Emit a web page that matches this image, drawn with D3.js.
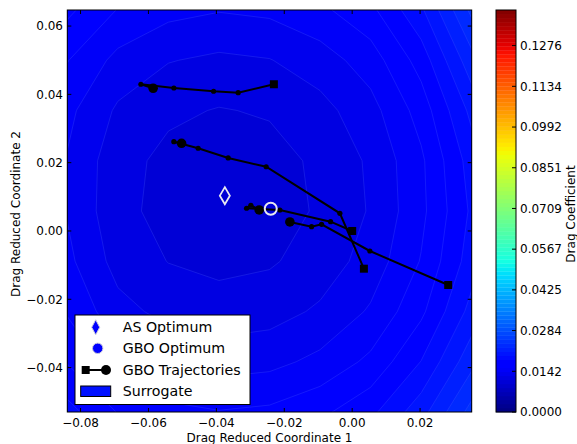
<!DOCTYPE html>
<html><head><meta charset="utf-8">
<script src="https://cdn.jsdelivr.net/npm/d3@7"></script>
<style>body{margin:0;background:#fff} text{font-family:"DejaVu Sans",sans-serif;fill:#000}</style>
</head><body><svg id="c" width="577" height="444"></svg>
<script>
// ---------------- data ----------------
const xDomain = [-0.0839, 0.0352];
const yDomain = [-0.053, 0.0647];
const xTicks = [-0.08, -0.06, -0.04, -0.02, 0.00, 0.02];
const yTicks = [-0.04, -0.02, 0.00, 0.02, 0.04, 0.06];
const cbMax = 0.1400;
const cbTicks = [0, 0.014177, 0.028354, 0.042531, 0.056708, 0.070885, 0.085062, 0.099239, 0.113416, 0.127593];
const nLevels = 100;
// surrogate drag coefficient on a 9x9 grid spanning the axes, rows from top (max y) to bottom
const surrogate = [
  [0.017115, 0.015337, 0.014425, 0.014078, 0.014296, 0.015080, 0.016439, 0.019349, 0.024162],
  [0.015461, 0.013583, 0.012671, 0.012324, 0.012542, 0.013326, 0.014685, 0.017395, 0.021908],
  [0.014358, 0.012380, 0.011468, 0.011121, 0.011339, 0.012123, 0.013482, 0.015992, 0.020005],
  [0.013905, 0.011727, 0.010815, 0.010468, 0.010686, 0.011470, 0.012829, 0.015139, 0.018852],
  [0.013903, 0.011625, 0.010713, 0.010366, 0.010584, 0.011368, 0.012727, 0.015037, 0.018450],
  [0.014353, 0.012075, 0.011163, 0.010816, 0.011034, 0.011818, 0.013177, 0.015487, 0.018900],
  [0.015256, 0.013078, 0.012166, 0.011819, 0.012037, 0.012821, 0.014180, 0.016490, 0.020103],
  [0.016706, 0.014628, 0.013716, 0.013369, 0.013587, 0.014371, 0.015730, 0.018240, 0.021953],
  [0.018708, 0.016730, 0.015818, 0.015471, 0.015689, 0.016473, 0.017832, 0.020442, 0.024355]
];
// GBO trajectories: start (square) ... end (circle)
const traj1 = [[-0.02306,0.04296],[-0.03358,0.04050],[-0.04082,0.04091],[-0.05251,0.04187],[-0.06223,0.04296],[-0.05862,0.04179]];
const traj2 = [[0.00345,-0.01104],[-0.00362,0.00518],[-0.02533,0.01880],[-0.03652,0.02138],[-0.04536,0.02422],[-0.05252,0.02615],[-0.05025,0.02568]];
const traj3 = [[0.0,0.0],[-0.00636,0.00272],[-0.02130,0.00615],[-0.03110,0.00665],[-0.02984,0.00753],[-0.02739,0.00615]];
const traj4 = [[0.02828,-0.01581],[0.00521,-0.00586],[-0.00901,0.00196],[-0.01196,0.00126],[-0.01835,0.00264]];
const trajectories = [traj1, traj2, traj3, traj4];
const asOptimum = [-0.0375, 0.01034];
const gboOptimum = [-0.02398, 0.00653];
const legendLabels = ["AS Optimum", "GBO Optimum", "GBO Trajectories", "Surrogate"];

// ---------------- helpers ----------------
function interp(seg, t){
  for (let i=1;i<seg.length;i++){
    if (t <= seg[i][0]){
      const a=seg[i-1], b=seg[i];
      return a[1] + (b[1]-a[1])*(t-a[0])/(b[0]-a[0]);
    }
  }
  return seg[seg.length-1][1];
}
const R=[[0,0],[0.35,0],[0.66,1],[0.89,1],[1,0.5]];
const G=[[0,0],[0.125,0],[0.375,1],[0.64,1],[0.91,0],[1,0]];
const B=[[0,0.5],[0.11,1],[0.34,1],[0.65,0],[1,0]];
function jet(t){
  t=Math.max(0,Math.min(1,t));
  return d3.rgb(255*interp(R,t),255*interp(G,t),255*interp(B,t)).formatHex();
}

// ---------------- layout ----------------
const svg = d3.select("#c");
const L=67.3, Rt=471.7, T=10, Bt=412;
const x = d3.scaleLinear(xDomain, [L, Rt]);
const y = d3.scaleLinear(yDomain, [Bt, T]);

svg.append("defs").append("clipPath").attr("id","clip")
  .append("rect").attr("x",L).attr("y",T).attr("width",Rt-L).attr("height",Bt-T);

// contour fill (d3.contours places sample i at grid coordinate i+0.5)
const n = surrogate.length, m = surrogate[0].length;
const levels = d3.range(nLevels+1).map(i => i*cbMax/nLevels);
const step = cbMax/nLevels;
const gxs = d3.scaleLinear([0.5, m-0.5], xDomain);
const gys = d3.scaleLinear([0.5, n-0.5], [yDomain[1], yDomain[0]]);
const proj = d3.geoTransform({point(px,py){ this.stream.point(x(gxs(px)), y(gys(py))); }});
const path = d3.geoPath(proj);
const cs = d3.contours().size([m, n]).thresholds(levels)(surrogate.flat());
const gC = svg.append("g").attr("clip-path","url(#clip)");
cs.forEach(c => {
  if (!c.coordinates.length) return;
  gC.append("path").attr("d", path(c))
    .attr("fill", jet((c.value + step/2)/cbMax))
    .attr("stroke", "rgba(90,110,255,0.32)").attr("stroke-width", 0.7);
});

// trajectories
const gT = svg.append("g").attr("clip-path","url(#clip)");
const line = d3.line().x(d=>x(d[0])).y(d=>y(d[1]));
trajectories.forEach(tr => {
  gT.append("path").attr("d", line(tr)).attr("fill","none").attr("stroke","#000").attr("stroke-width",2);
  tr.slice(1,-1).forEach(p => gT.append("circle").attr("cx",x(p[0])).attr("cy",y(p[1])).attr("r",2.6).attr("fill","#000"));
  const s = tr[0];
  gT.append("rect").attr("x",x(s[0])-4).attr("y",y(s[1])-4).attr("width",8).attr("height",8).attr("fill","#000");
  const e = tr[tr.length-1];
  gT.append("circle").attr("cx",x(e[0])).attr("cy",y(e[1])).attr("r",4.8).attr("fill","#000");
});

// optima
const diamond = (cx,cy,w,h) => `M${cx},${cy-h/2}L${cx+w/2},${cy}L${cx},${cy+h/2}L${cx-w/2},${cy}Z`;
gT.append("path").attr("d", diamond(x(asOptimum[0]), y(asOptimum[1]), 10, 17))
  .attr("fill","none").attr("stroke","#e8e8f0").attr("stroke-width",1.8);
gT.append("circle").attr("cx",x(gboOptimum[0])).attr("cy",y(gboOptimum[1])).attr("r",6)
  .attr("fill","none").attr("stroke","#e8e8f0").attr("stroke-width",2);

// frame and ticks
svg.append("rect").attr("x",L).attr("y",T).attr("width",Rt-L).attr("height",Bt-T)
  .attr("fill","none").attr("stroke","#000").attr("stroke-width",1);
const tl=4;
xTicks.forEach(v => {
  const px=x(v);
  svg.append("line").attr("x1",px).attr("x2",px).attr("y1",Bt).attr("y2",Bt-tl).attr("stroke","#000");
  svg.append("line").attr("x1",px).attr("x2",px).attr("y1",T).attr("y2",T+tl).attr("stroke","#000");
  svg.append("text").attr("x",px).attr("y",426.5).attr("text-anchor","middle").attr("font-size",12)
    .text(d3.format(".2f")(v).replace("-","\u2212"));
});
yTicks.forEach(v => {
  const py=y(v);
  svg.append("line").attr("x1",L).attr("x2",L+tl).attr("y1",py).attr("y2",py).attr("stroke","#000");
  svg.append("line").attr("x1",Rt).attr("x2",Rt-tl).attr("y1",py).attr("y2",py).attr("stroke","#000");
  svg.append("text").attr("x",63).attr("y",py).attr("dy","0.36em").attr("text-anchor","end").attr("font-size",12)
    .text(d3.format(".2f")(v).replace("-","\u2212"));
});
svg.append("text").attr("x",(L+Rt)/2).attr("y",441.5).attr("text-anchor","middle").attr("font-size",12)
  .text("Drag Reduced Coordinate 1");
svg.append("text").attr("transform","translate(15.5,214) rotate(-90)").attr("text-anchor","middle")
  .attr("dominant-baseline","central").attr("font-size",12).text("Drag Reduced Coordinate 2");

// legend
const lg = svg.append("g");
lg.append("rect").attr("x",75).attr("y",315).attr("width",175).attr("height",89.5)
  .attr("fill","#fff").attr("stroke","#000").attr("stroke-width",1);
const rowsY=[327.3,348.3,370,390.7];
lg.append("path").attr("d", diamond(95.7, rowsY[0], 8, 15)).attr("fill","#0000ff").attr("stroke","#ccd").attr("stroke-width",1);
lg.append("circle").attr("cx",97.7).attr("cy",rowsY[1]).attr("r",5.2).attr("fill","#0000ff").attr("stroke","#ccd").attr("stroke-width",1);
lg.append("line").attr("x1",85.7).attr("x2",106).attr("y1",rowsY[2]).attr("y2",rowsY[2]).attr("stroke","#000").attr("stroke-width",2);
lg.append("rect").attr("x",81.7).attr("y",rowsY[2]-4).attr("width",8).attr("height",8).attr("fill","#000");
lg.append("circle").attr("cx",106).attr("cy",rowsY[2]).attr("r",5).attr("fill","#000");
lg.append("rect").attr("x",80.7).attr("y",386).attr("width",30).attr("height",10.5).attr("fill","#0010ff").attr("stroke","#000").attr("stroke-width",1);
legendLabels.forEach((t,i) => lg.append("text").attr("x",122.7).attr("y",rowsY[i]).attr("dy","0.36em").attr("font-size",14.2).text(t));

// colorbar
const cbL=496, cbR=516;
const cb = d3.scaleLinear([0, cbMax], [Bt, T]);
for (let i=0;i<nLevels;i++){
  svg.append("rect").attr("x",cbL).attr("width",cbR-cbL)
    .attr("y",cb(levels[i+1])).attr("height",cb(levels[i])-cb(levels[i+1])+0.3)
    .attr("fill", jet((levels[i]+levels[i+1])/2/cbMax));
}
svg.append("rect").attr("x",cbL).attr("y",T).attr("width",cbR-cbL).attr("height",Bt-T)
  .attr("fill","none").attr("stroke","#000").attr("stroke-width",1);
cbTicks.forEach(v => {
  const py=cb(v);
  svg.append("line").attr("x1",cbR).attr("x2",cbR-4).attr("y1",py).attr("y2",py).attr("stroke","#000");
  svg.append("text").attr("x",520).attr("y",py).attr("dy","0.36em").attr("font-size",12).text(d3.format(".4f")(v));
});
svg.append("text").attr("transform","translate(570.5,214) rotate(-90)").attr("text-anchor","middle")
  .attr("dominant-baseline","central").attr("font-size",12).text("Drag Coefficient");
</script></body></html>
